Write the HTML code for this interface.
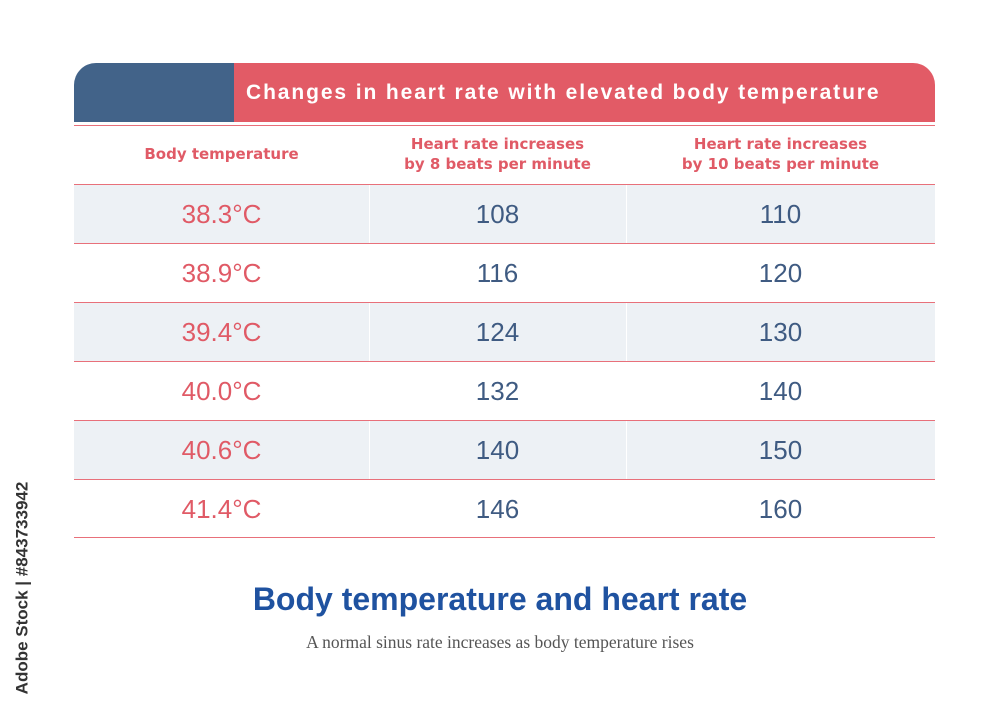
<!DOCTYPE html>
<html><head><style>
body{margin:0;width:1000px;height:716px;background:#fff;position:relative;font-family:"Liberation Sans","DejaVu Sans",sans-serif;overflow:hidden}
.a{position:absolute}
.hb{left:74px;top:63px;width:160px;height:59px;background:#426389;border-top-left-radius:22px}
.hr{left:234px;top:63px;width:701px;height:59px;background:#e25b66;border-top-right-radius:22px;color:#fff;font-weight:bold;font-size:21px;letter-spacing:1.9px;line-height:59px;text-indent:12px;white-space:nowrap}
.ln{left:74px;width:861px;height:1px;background:#e8707a}
.row{left:74px;width:861px;height:58px}
.c{position:absolute;text-align:center;font-family:"DejaVu Sans",sans-serif}
.h{color:#e05a66;font-weight:bold;font-size:15px;line-height:20px}
.v{font-family:"Liberation Sans",sans-serif;font-size:26px;line-height:58px;color:#3f5b82}
.t{color:#e05a66}
</style></head><body>
<div class="a hb"></div>
<div class="a hr">Changes in heart rate with elevated body temperature</div>
<div class="a ln" style="top:125px"></div>
<div class="a" style="left:74px;top:126px;width:861px;height:58px">
<div class="c h" style="left:0;width:295px;top:18px">Body temperature</div>
<div class="c h" style="left:295px;width:257px;top:8px">Heart rate increases<br>by 8 beats per minute</div>
<div class="c h" style="left:552px;width:309px;top:8px">Heart rate increases<br>by 10 beats per minute</div>
</div>
<div class="a ln" style="top:184px"></div>

<div class="a row" style="top:185px;background:#edf1f5"><div class="a" style="left:295px;width:1px;height:58px;background:#fff"></div><div class="a" style="left:552px;width:1px;height:58px;background:#fff"></div><div class="c v t" style="left:0;width:295px">38.3°C</div><div class="c v" style="left:295px;width:257px">108</div><div class="c v" style="left:552px;width:309px">110</div></div>
<div class="a ln" style="top:243px"></div>
<div class="a row" style="top:244px"><div class="c v t" style="left:0;width:295px">38.9°C</div><div class="c v" style="left:295px;width:257px">116</div><div class="c v" style="left:552px;width:309px">120</div></div>
<div class="a ln" style="top:302px"></div>
<div class="a row" style="top:303px;background:#edf1f5"><div class="a" style="left:295px;width:1px;height:58px;background:#fff"></div><div class="a" style="left:552px;width:1px;height:58px;background:#fff"></div><div class="c v t" style="left:0;width:295px">39.4°C</div><div class="c v" style="left:295px;width:257px">124</div><div class="c v" style="left:552px;width:309px">130</div></div>
<div class="a ln" style="top:361px"></div>
<div class="a row" style="top:362px"><div class="c v t" style="left:0;width:295px">40.0°C</div><div class="c v" style="left:295px;width:257px">132</div><div class="c v" style="left:552px;width:309px">140</div></div>
<div class="a ln" style="top:420px"></div>
<div class="a row" style="top:421px;background:#edf1f5"><div class="a" style="left:295px;width:1px;height:58px;background:#fff"></div><div class="a" style="left:552px;width:1px;height:58px;background:#fff"></div><div class="c v t" style="left:0;width:295px">40.6°C</div><div class="c v" style="left:295px;width:257px">140</div><div class="c v" style="left:552px;width:309px">150</div></div>
<div class="a ln" style="top:479px"></div>
<div class="a row" style="top:480px"><div class="c v t" style="left:0;width:295px">41.4°C</div><div class="c v" style="left:295px;width:257px">146</div><div class="c v" style="left:552px;width:309px">160</div></div>
<div class="a ln" style="top:537px"></div>

<div class="a" style="left:0;width:1000px;top:581px;text-align:center;color:#1f52a0;font-weight:bold;font-size:32px">Body temperature and heart rate</div>
<div class="a" style="left:0;width:1000px;top:632px;text-align:center;color:#555;font-family:'Liberation Serif',serif;font-size:17.5px">A normal sinus rate increases as body temperature rises</div>
<div class="a" style="left:-90px;top:578px;width:225px;transform:rotate(-90deg);font-size:17px;font-weight:bold;color:#333;text-align:center;white-space:nowrap">Adobe Stock | #843733942</div>
</body></html>
